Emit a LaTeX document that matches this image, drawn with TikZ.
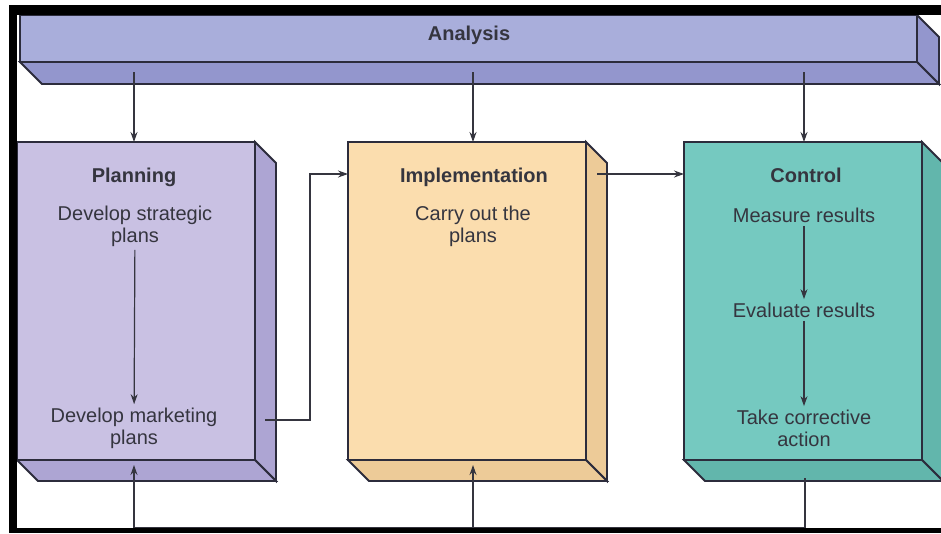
\documentclass[tikz,border=0pt]{standalone}
\usepackage{fontspec}
\setmainfont{Liberation Sans}
\usetikzlibrary{positioning,calc,arrows.meta}

\definecolor{analysiscol}{HTML}{A9AEDB}
\definecolor{analysisdark}{HTML}{9396CD}
\definecolor{plancol}{HTML}{C9C1E3}
\definecolor{plandark}{HTML}{ADA5D3}
\definecolor{implcol}{HTML}{FBDDAE}
\definecolor{impldark}{HTML}{EDCB98}
\definecolor{ctrlcol}{HTML}{75C9C0}
\definecolor{ctrldark}{HTML}{62B6AC}
\definecolor{edgecol}{HTML}{2C2C3C}
\definecolor{inkcol}{HTML}{35353F}

\tikzset{
  facebox/.style={draw=edgecol, line width=1.8pt, inner sep=0pt, outer sep=0pt, anchor=north west},
  stagebox/.style={facebox, minimum width=238pt, minimum height=318pt},
  depthface/.style={draw=edgecol, line width=1.8pt},
  title/.style={font=\bfseries\fontsize{20}{22}\selectfont, text=inkcol, text height=15pt, text depth=5pt},
  stepnode/.style={font=\fontsize{20}{22}\selectfont, text=inkcol, align=center},
  flow/.style={draw=inkcol, line width=1.2pt, -{Stealth[length=10pt,width=7pt]}},
  wire/.style={draw=inkcol, line width=1.2pt},
}

% right and bottom faces of a box: node, colour, depth
\newcommand{\boxdepth}[3]{%
  \filldraw[depthface, fill=#2] (#1.north east) -- ++(#3,#3)
    -- ($(#1.south east)+(#3,#3)$) -- (#1.south east) -- cycle;
  \filldraw[depthface, fill=#2] (#1.south west) -- ++(#3,#3)
    -- ($(#1.south east)+(#3,#3)$) -- (#1.south east) -- cycle;
}

\begin{document}
\begin{tikzpicture}[x=1pt, y=-1pt]
  \useasboundingbox[fill=white] (0,0) rectangle (941,533);

  % analysis bar
  \node[facebox, fill=analysiscol, minimum width=897pt, minimum height=47pt] (analysis) at (20,15) {};
  \boxdepth{analysis}{analysisdark}{22}
  \node[title] (analysislabel) at (469,35) {Analysis};
  \coordinate (analysisfoot) at ([yshift=-10pt]analysis.south);

  % the three stages
  \node[stagebox, fill=plancol] (planning) at (17,142) {};
  \boxdepth{planning}{plandark}{21}
  \node[stagebox, fill=implcol] (implementation) at (348,142) {};
  \boxdepth{implementation}{impldark}{21}
  \node[stagebox, fill=ctrlcol] (control) at (684,142) {};
  \boxdepth{control}{ctrldark}{21}

  % planning
  \node[title] (plantitle) at (134,177) {Planning};
  \node[stepnode] (strategic) at (135,226) {Develop strategic\\plans};
  \node[stepnode] (marketing) at (134,428) {Develop marketing\\plans};
  \draw[flow] (strategic) -- (marketing);

  % implementation
  \node[title] (impltitle) at (474,177) {Implementation};
  \node[stepnode] (carry) at (473,226) {Carry out the\\plans};

  % control
  \node[title] (ctrltitle) at (806,177) {Control};
  \node[stepnode] (measure) at (804,215) {Measure results};
  \node[stepnode] (evaluate) at (804,310) {Evaluate results};
  \node[stepnode] (corrective) at (804,428) {Take corrective\\action};
  \draw[flow] (measure) -- (evaluate);
  \draw[flow] (evaluate) -- (corrective);

  % from analysis
  \draw[flow] (analysisfoot -| plantitle) -- (plantitle |- planning.north);
  \draw[flow] (analysisfoot -| carry) -- (carry |- implementation.north);
  \draw[flow] (analysisfoot -| measure) -- (measure |- control.north);

  % between stages
  \coordinate (planout) at (265,420);
  \coordinate (implout) at (597,174);
  \draw[flow] (planout) -- ++(45,0) |- (implementation.west |- implout);
  \draw[flow] (implout) -- (control.west |- implout);

  % feedback
  \coordinate (ctrlout) at (805,478);
  \coordinate (feedbase) at (805,528);
  \draw[wire] (ctrlout) -- (feedbase) -- (feedbase -| plantitle);
  \draw[flow] (feedbase -| plantitle) -- ([yshift=-5pt]plantitle |- planning.south);
  \draw[flow] (feedbase -| carry) -- ([yshift=-5pt]carry |- implementation.south);

  % frame
  \fill[black] (9,5) rectangle (941,15);
  \fill[black] (9,5) rectangle (17,533);
  \fill[black] (9,528) rectangle (941,533);
\end{tikzpicture}
\end{document}
